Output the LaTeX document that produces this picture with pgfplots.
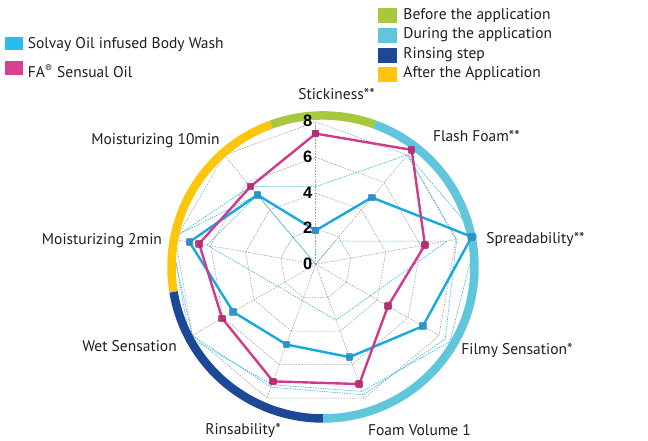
\documentclass[border=0pt]{standalone}
\usepackage{fontspec}
\setmainfont{PT Sans}
\newfontfamily\tickfont{Liberation Sans}
\usepackage{pgfplots}
\pgfplotsset{compat=1.18}
\usetikzlibrary{calc}
\definecolor{solvay}{HTML}{16A9E1}
\definecolor{solvaymark}{HTML}{2A8FC4}
\definecolor{fa}{HTML}{D03A8A}
\definecolor{famark}{HTML}{B32C73}
\definecolor{legsolvay}{HTML}{29BDEF}
\definecolor{legfa}{HTML}{D6428F}
\definecolor{rgreen}{HTML}{A5C83C}
\definecolor{rcyan}{HTML}{5FC6DC}
\definecolor{rblue}{HTML}{1C4896}
\definecolor{ryellow}{HTML}{FDC50C}
\definecolor{dotcyan}{HTML}{3DB7E8}
\definecolor{txt}{HTML}{1E1E1E}
\begin{document}
\begin{tikzpicture}[
  lab/.style={font=\fontsize{15.5}{17}\selectfont, text=txt},
  tk/.style={font=\tickfont\bfseries\fontsize{16.5}{18}\selectfont, text=black}]
\begin{axis}[x=17.8pt, y=17.8pt,
  xmin=-17.736, xmax=18.669, ymin=-9.702, ymax=14.848,
  hide axis, clip=false,
  web/.style={gray!75, line width=0.55pt, dash pattern=on 1.6pt off 1.2pt, mark=none, data cs=polar},
  dotl/.style={dotcyan, line width=0.65pt, dash pattern=on 1.5pt off 1pt, mark=none, data cs=polar}]
\path (axis cs:-17.736,-9.702) rectangle (axis cs:18.669,14.848);
% web
\pgfplotsinvokeforeach{2,4,6,8}{
\addplot[web] coordinates {(90,#1)(50,#1)(10,#1)(-30,#1)(-70,#1)(-110,#1)(-150,#1)(-190,#1)(-230,#1)(90,#1)};
}
\pgfplotsinvokeforeach{90,50,10,-30,-70,-110,-150,-190,-230}{
\addplot[web] coordinates {(#1,0)(#1,8)};
}
% dotted cyan traces
\addplot[dotl] coordinates {(90,0)(50,1.7)(10,7.5)(-70,3.34)(-190,6.2)(-230,5.09)};
\addplot[dotcyan, line width=0.5pt, mark=none, data cs=polar] coordinates {(-230,5.09)(90,0)};
\addplot[dotl] coordinates {(-230,5.7)(90,4.36)(50,8.04)(10,9.2)(-30,8.7)(-70,7.6)(-110,7.2)(-150,8.2)(-190,8.2)(-230,5.7)};
\addplot[dotl] coordinates {(50,8.04)(10,8.05)(-30,8.4)(-70,7.8)(-110,7.35)(-150,8.0)(-190,8.3)(-230,5.09)};
% ring
\draw[rgreen, line width=8.5pt] ($(axis cs:0.41,-0.15)+(70:151.5pt)$) arc[start angle=70, end angle=110, radius=151.5pt];
\draw[ryellow, line width=8.5pt] ($(axis cs:0.41,-0.15)+(110:151.5pt)$) arc[start angle=110, end angle=189.5, radius=151.5pt];
\draw[rblue, line width=8.5pt] ($(axis cs:0.41,-0.15)+(189.5:151.5pt)$) arc[start angle=189.5, end angle=270, radius=151.5pt];
\draw[rcyan, line width=8.5pt] ($(axis cs:0.41,-0.15)+(-90:151.5pt)$) arc[start angle=-90, end angle=70, radius=151.5pt];
% series
\addplot[solvay, line width=2.4pt, line join=round, mark=square*, mark size=2.6pt,
  mark options={solid, fill=solvaymark, draw=solvaymark, opacity=0.85}, data cs=polar]
  coordinates {(90,1.9)(50,4.9)(10,8.9)(-30,6.95)(-70,5.55)(-110,4.8)(-150,5.35)(-190,7.2)(-230,5.09)(90,1.9)};
\addplot[fa, line width=2.4pt, line join=round, mark=square*, mark size=2.6pt,
  mark options={solid, fill=famark, draw=famark, opacity=0.85}, data cs=polar]
  coordinates {(90,7.34)(50,8.39)(10,6.23)(-30,4.69)(-70,7.16)(-110,7.0)(-150,6.07)(-190,6.65)(-230,5.7)(90,7.34)};
% tick labels
\node[tk] at (axis cs:-0.45,0) {0};
\node[tk] at (axis cs:-0.45,2.04) {2};
\node[tk] at (axis cs:-0.45,4.04) {4};
\node[tk] at (axis cs:-0.45,6.04) {6};
\node[tk] at (axis cs:-0.45,8.04) {8};
% category labels
\node[lab] at (axis cs:1.17,9.57) {Stickiness**};
\node[lab] at (axis cs:9.03,7.21) {Flash Foam**};
\node[lab] at (axis cs:12.35,1.37) {Spreadability**};
\node[lab] at (axis cs:11.31,-4.87) {Filmy Sensation*};
\node[lab] at (axis cs:5.83,-9.33) {Foam Volume 1};
\node[lab] at (axis cs:-4.08,-9.33) {Rinsability*};
\node[lab] at (axis cs:-10.46,-4.59) {Wet Sensation};
\node[lab] at (axis cs:-12.01,1.31) {Moisturizing 2min};
\node[lab] at (axis cs:-9.0,6.93) {Moisturizing 10min};
% legends
\fill[legsolvay] (axis cs:-17.455,12.77) rectangle (axis cs:-16.42,12.04);
\node[lab, anchor=west, inner sep=0pt] at (axis cs:-16.18,12.37) {Solvay Oil infused Body Wash};
\fill[legfa] (axis cs:-17.455,11.42) rectangle (axis cs:-16.42,10.63);
\node[lab, anchor=west, inner sep=0pt] at (axis cs:-16.18,10.86) {FA\textsuperscript{®} Sensual Oil};
\fill[rgreen] (axis cs:3.52,14.38) rectangle (axis cs:4.56,13.57);
\node[lab, anchor=west, inner sep=0pt] at (axis cs:4.92,13.95) {Before the application};
\fill[rcyan] (axis cs:3.52,13.26) rectangle (axis cs:4.56,12.45);
\node[lab, anchor=west, inner sep=0pt] at (axis cs:4.92,12.88) {During the application};
\fill[rblue] (axis cs:3.52,12.13) rectangle (axis cs:4.56,11.32);
\node[lab, anchor=west, inner sep=0pt] at (axis cs:4.92,11.76) {Rinsing step};
\fill[ryellow] (axis cs:3.52,11.1) rectangle (axis cs:4.56,10.26);
\node[lab, anchor=west, inner sep=0pt] at (axis cs:4.92,10.69) {After the Application};
\end{axis}
\end{tikzpicture}
\end{document}
